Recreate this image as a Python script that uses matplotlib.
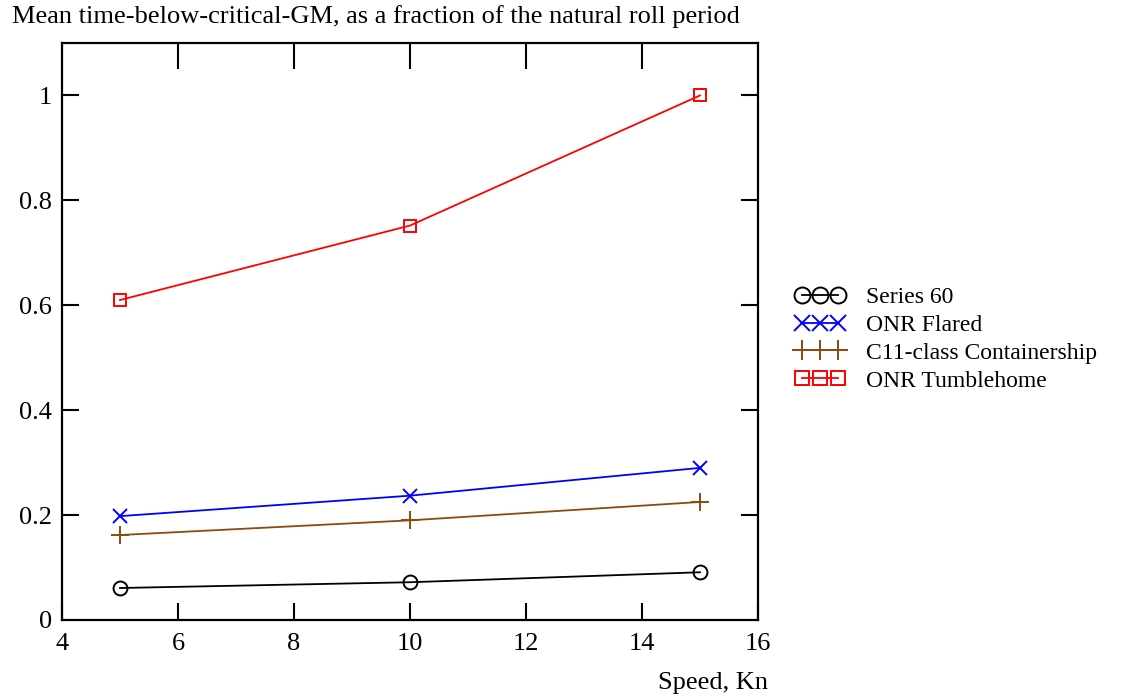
import matplotlib
matplotlib.use('Agg')
import matplotlib.pyplot as plt

# speed (knots) and mean time below critical GM / natural roll period
speeds = [5, 10, 15]
series60 = [0.061, 0.072, 0.091]
onr_flared = [0.198, 0.237, 0.290]
c11 = [0.162, 0.190, 0.225]
onr_tumblehome = [0.610, 0.752, 1.000]

names = ["Series 60", "ONR Flared", "C11-class Containership", "ONR Tumblehome"]
xticks = [4, 6, 8, 10, 12, 14, 16]
yticks = [0, 0.2, 0.4, 0.6, 0.8, 1]
ytick_labels = ["0", "0.2", "0.4", "0.6", "0.8", "1"]

plt.rcParams['font.family'] = ['Liberation Serif', 'DejaVu Serif']
plt.rcParams['font.size'] = 19

fig = plt.figure(figsize=(11.42, 7.0), dpi=100)
ax = fig.add_axes([62 / 1142, 80 / 700, 696 / 1142, 577 / 700])

style = dict(lw=1.3, mew=1.4)
ax.plot(speeds, series60, color='black', marker='o', ms=10, mfc='none',
        label=names[0], **style)
ax.plot(speeds, onr_flared, color='#0000ff', marker='x', ms=10,
        label=names[1], **style)
ax.plot(speeds, c11, color='#8c4a10', marker='+', ms=13,
        label=names[2], **style)
ax.plot(speeds, onr_tumblehome, color='#ff0000', marker='s', ms=9, mfc='none',
        label=names[3], **style)

ax.set_xlim(4, 16)
ax.set_ylim(0, 1.1)
ax.set_xticks(xticks)
ax.set_yticks(yticks)
ax.set_yticklabels(ytick_labels)

for s in ax.spines.values():
    s.set_linewidth(1.6)
ax.tick_params(direction='in', length=12, width=1.5, right=True, labelsize=19)
ax.tick_params(axis='x', pad=9)
ax.tick_params(axis='y', pad=7)
# hide ticks lying on the spines; top ticks are longer
for t in ax.xaxis.get_major_ticks():
    if t.get_loc() in (4, 16):
        t.tick1line.set_visible(False)
for t in ax.yaxis.get_major_ticks():
    if t.get_loc() == 0:
        t.tick1line.set_visible(False)
        t.tick2line.set_visible(False)
top = ax.secondary_xaxis('top')
top.set_xticks([6, 8, 10, 12, 14])
top.tick_params(direction='in', length=19, width=1.5, labeltop=False)
top.spines['top'].set_visible(False)

fig.text(12 / 1142, 1 - 17 / 700,
         "Mean time-below-critical-GM, as a fraction of the natural roll period",
         ha='left', va='center', fontsize=19)
fig.text(768 / 1142, 1 - 683 / 700, "Speed, Kn", ha='right', va='center',
         fontsize=19)

fig.legend(loc='center left', bbox_to_anchor=(795 / 1142, 1 - 339 / 700),
           frameon=False, numpoints=3, handlelength=2.1, handletextpad=0.9,
           labelspacing=0.27, fontsize=17, borderpad=0, borderaxespad=0,
           markerscale=1.15)

fig.savefig('out.png', dpi=100)
